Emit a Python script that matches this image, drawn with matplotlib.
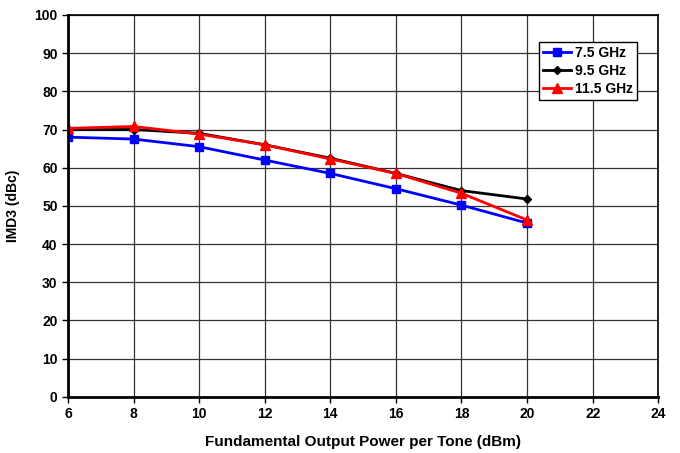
import matplotlib
matplotlib.use("Agg")
import matplotlib.pyplot as plt

plt.rcParams['font.family'] = ['Liberation Sans', 'DejaVu Sans']
plt.rcParams['font.weight'] = 'bold'

pout = [6, 8, 10, 12, 14, 16, 18, 20]
imd_75 = [68.0, 67.5, 65.5, 62.0, 58.5, 54.5, 50.2, 45.5]
imd_95 = [70.0, 70.0, 69.0, 66.0, 62.5, 58.5, 54.0, 51.8]
imd_115 = [70.3, 70.8, 68.8, 66.0, 62.3, 58.5, 53.3, 46.3]

fig = plt.figure(figsize=(6.8, 4.53), dpi=100)
ax = fig.add_axes([0.1, 0.124, 0.868, 0.843])

ax.plot(pout, imd_75, color='#0000ff', marker='s', markersize=6, lw=2, label='7.5 GHz')
ax.plot(pout, imd_95, color='black', marker='D', markersize=4.5, lw=2, label='9.5 GHz')
ax.plot(pout, imd_115, color='#ff0000', marker='^', markersize=7, lw=2, label='11.5 GHz')

ax.set_xlim(6, 24)
ax.set_ylim(0, 100)
ax.set_xticks(range(6, 25, 2))
ax.set_yticks(range(0, 101, 10))
ax.grid(True, color='#333333', lw=0.9)
ax.tick_params(labelsize=10, length=4, width=1)
for lab in ax.get_xticklabels() + ax.get_yticklabels():
    lab.set_fontweight('bold')
for s in ['left', 'bottom']:
    ax.spines[s].set_linewidth(2)
for s in ['top', 'right']:
    ax.spines[s].set_linewidth(1.2)

ax.set_xlabel('Fundamental Output Power per Tone (dBm)', fontsize=11, fontweight='bold', labelpad=10)
ax.set_ylabel('IMD3 (dBc)', fontsize=10, fontweight='bold', labelpad=10)

leg = ax.legend(loc='upper right', bbox_to_anchor=(0.964, 0.93), fontsize=10,
                frameon=True, fancybox=False, edgecolor='black', framealpha=1,
                handlelength=2.0, handletextpad=0.3, borderpad=0.3, labelspacing=0.3,
                borderaxespad=0)
leg.get_frame().set_linewidth(1)

fig.savefig('out.png', dpi=100)
